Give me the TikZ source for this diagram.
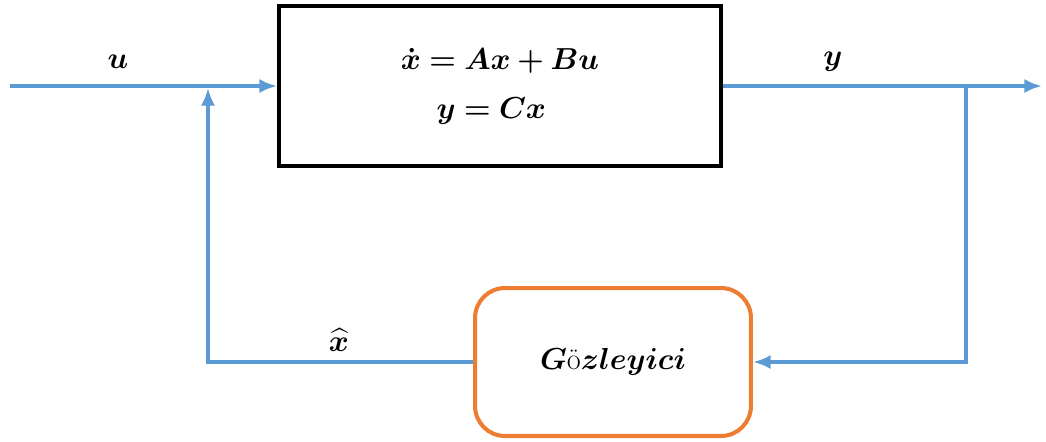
\documentclass[tikz,border=0pt]{standalone}
\usepackage{amsmath}
\usepackage{bm}
\usetikzlibrary{arrows.meta, positioning}
\definecolor{sigblue}{RGB}{91,155,213}
\definecolor{obsorange}{RGB}{237,125,49}

\begin{document}
\begin{tikzpicture}[
    x=0.02cm, y=-0.02cm,
    >={Latex[length=10pt,width=8pt]},
    sig/.style={draw=sigblue, line width=2.3pt},
    sysbox/.style={rectangle, draw=black, line width=2.3pt, minimum width=8.84cm, minimum height=3.2cm, align=center, font=\LARGE},
    obsbox/.style={rectangle, rounded corners=0.6cm, draw=obsorange, line width=2.3pt, minimum width=5.52cm, minimum height=2.96cm, font=\LARGE},
    lbl/.style={font=\LARGE}
]
\useasboundingbox (0,0) rectangle (1046,441);

\node [sysbox] (sys) at (500,86) {$\bm{\dot{x} = Ax + Bu}$\\[6pt]\hspace*{-0.35cm}$\bm{y = Cx}$};
\node [obsbox] (obs) at (613,362) {$\bm{G}$ö$\bm{zleyici}$};

\coordinate (in) at (10,86);
\coordinate (jin) at (208,86);
\coordinate (cin) at (208,362);
\coordinate (jout) at (966,86);
\coordinate (cout) at (966,362);
\coordinate (out) at (1042,86);

\draw [sig, ->] (in) -- (sys.west);
\draw [sig, ->] (sys.east) -- (out);
\draw [sig, ->] (jout) -- (cout) -- (obs.east);
\draw [sig, ->] (obs.west) -- (cin) -- ([yshift=-1.1pt]jin);

\node [lbl] (ulbl) at (118,62) {$\bm{u}$};
\node [lbl] (ylbl) at (833,62) {$\bm{y}$};
\node [lbl] (xhatlbl) at (339,340) {$\widehat{\bm{x}}$};

\end{tikzpicture}
\end{document}
